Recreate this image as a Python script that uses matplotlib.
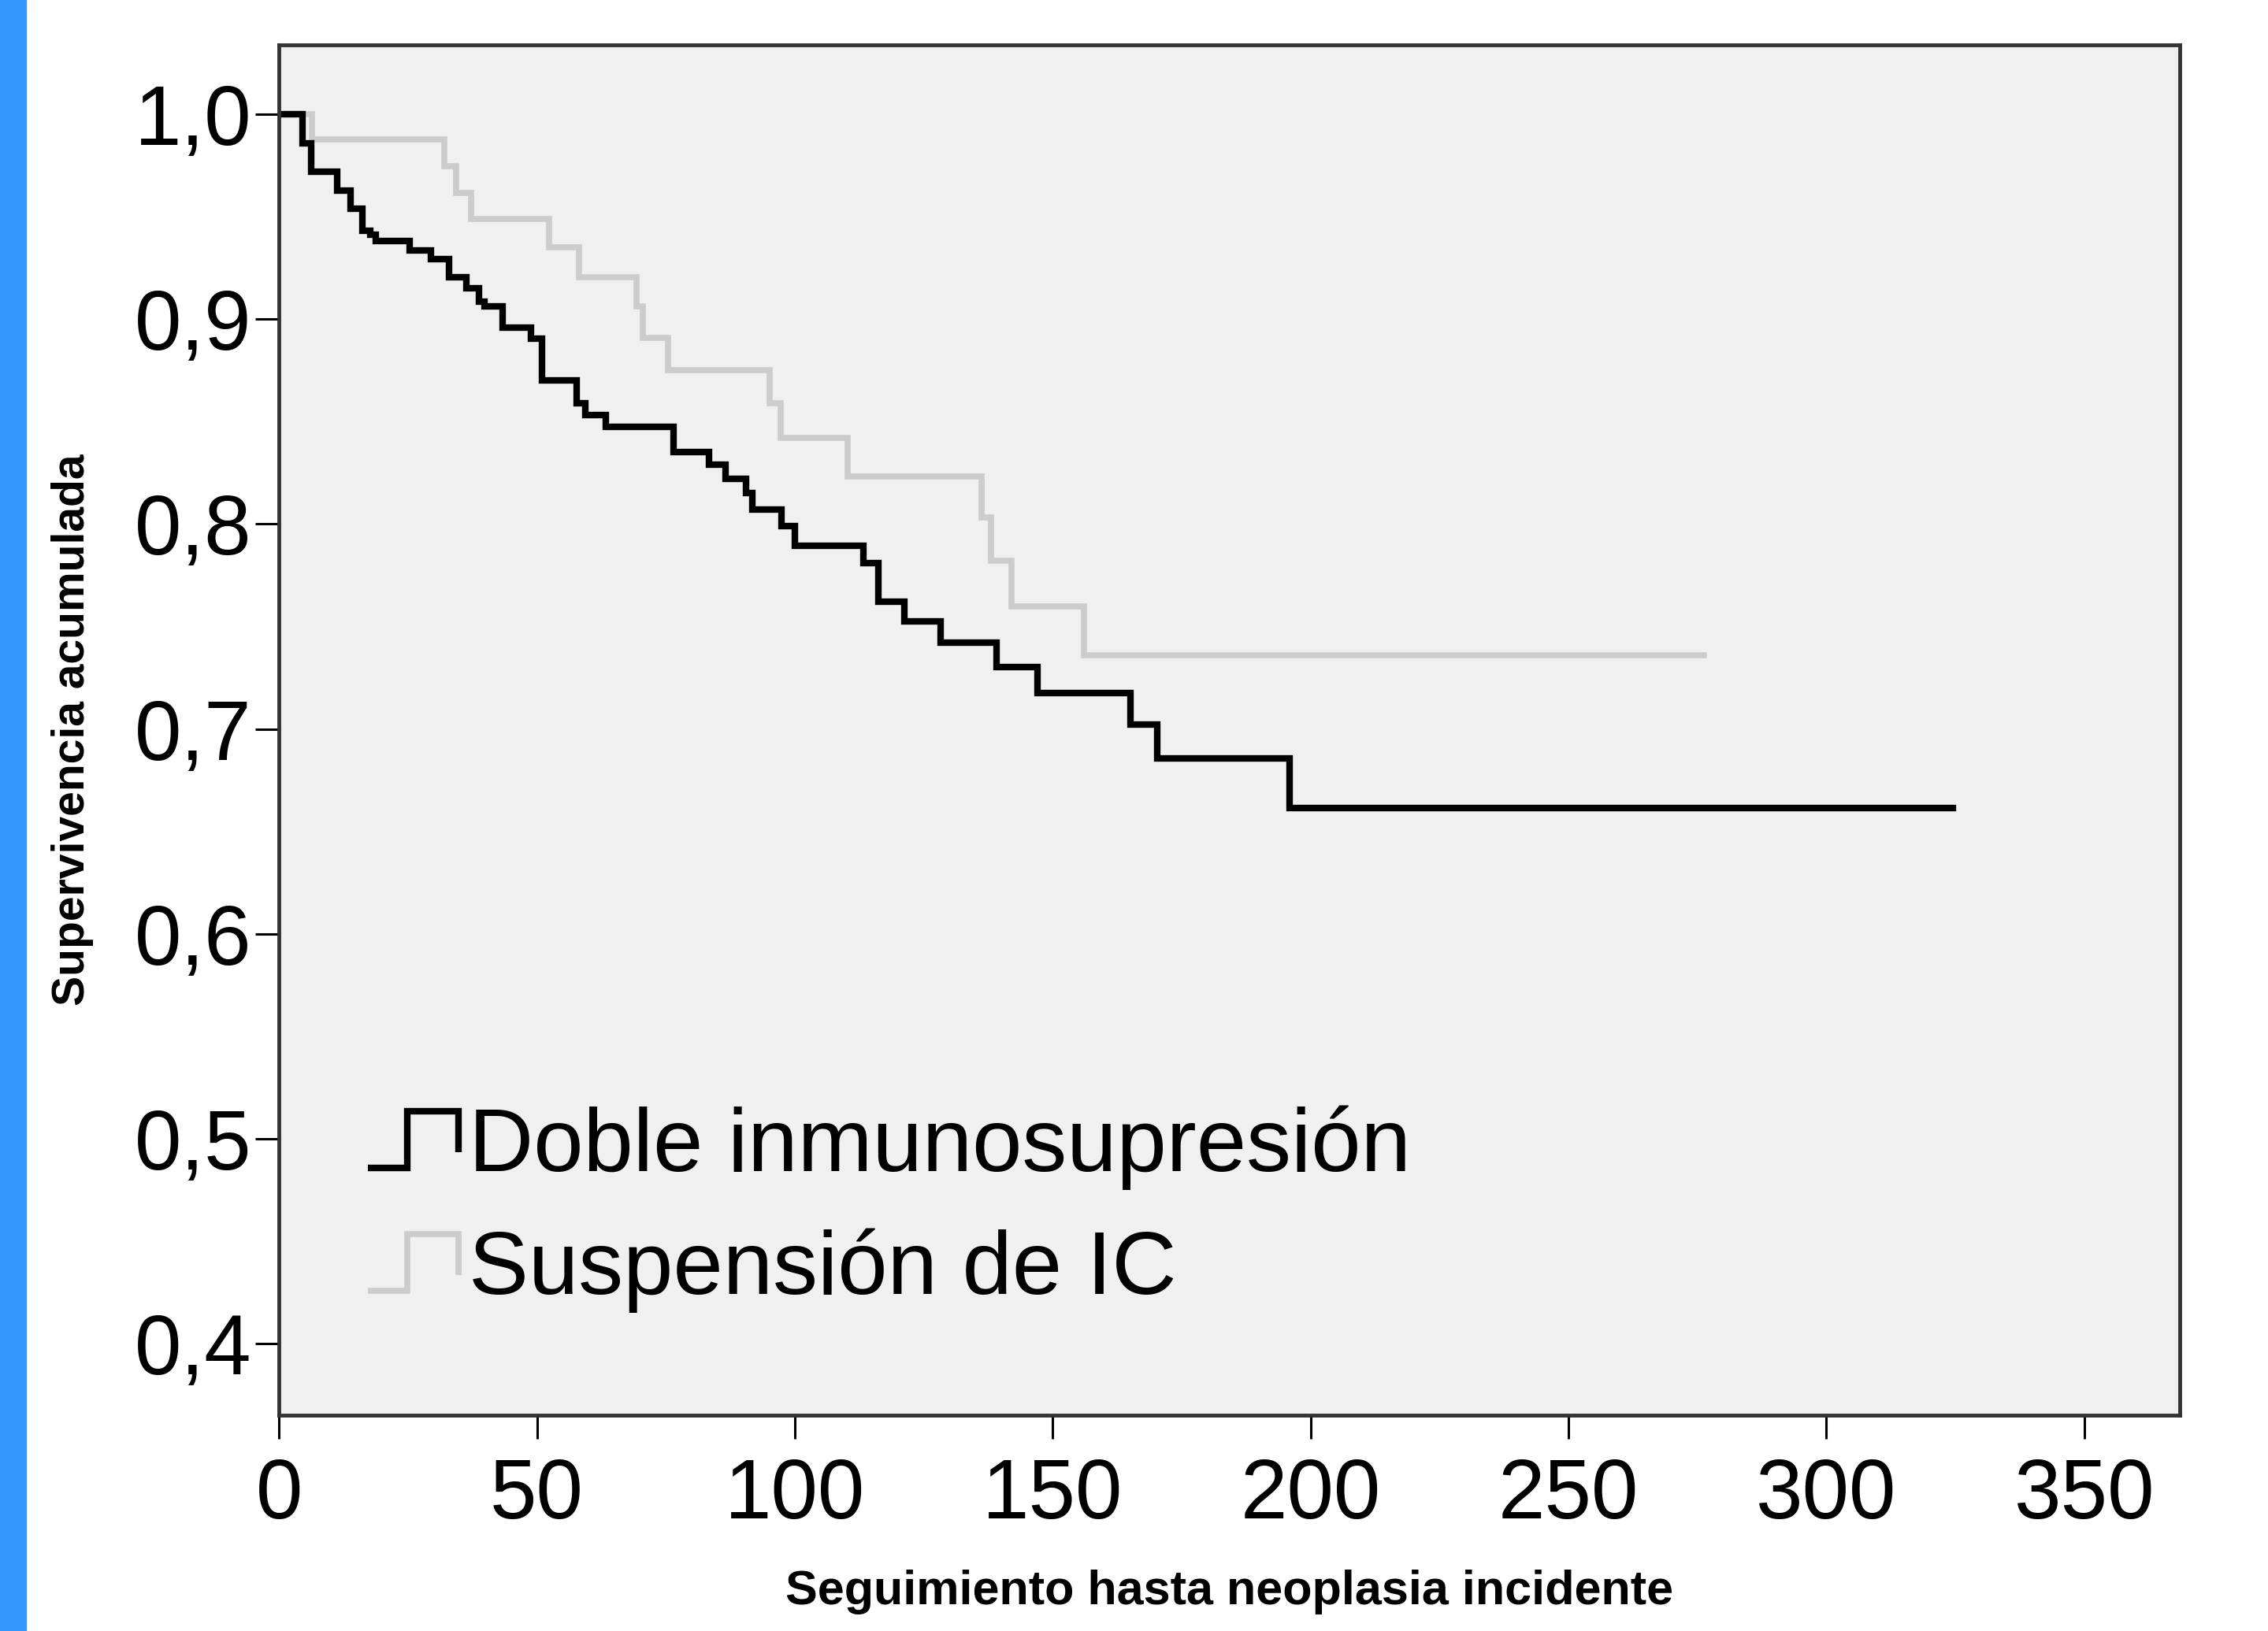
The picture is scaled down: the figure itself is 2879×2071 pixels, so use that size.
import numpy as np
import matplotlib
matplotlib.use("Agg")
import matplotlib.pyplot as plt
from matplotlib.lines import Line2D
from matplotlib.legend_handler import HandlerBase
from matplotlib.patches import Rectangle

# Kaplan-Meier steps
times_doble = [0, 4.5, 6.3, 11.3, 13.9, 16.2, 17.7, 18.7, 25.3, 29.4, 32.9, 36.4,
               38.8, 39.9, 43.4, 48.9, 51.0, 57.7, 59.4, 63.4, 76.5, 83.4, 86.5,
               90.5, 91.7, 97.4, 100.0, 113.3, 116.2, 121.3, 128.2, 139.1, 147.1,
               165.0, 170.2, 196.0, 324.5]
surv_doble = [1.0, 0.9857, 0.9718, 0.9625, 0.9538, 0.9432, 0.941, 0.9381, 0.9333,
              0.9291, 0.9205, 0.915, 0.9085, 0.9063, 0.8957, 0.8903, 0.8701, 0.859,
              0.853, 0.8475, 0.835, 0.829, 0.822, 0.815, 0.807, 0.799, 0.7894,
              0.7809, 0.762, 0.7526, 0.7422, 0.7303, 0.7174, 0.7020, 0.6856,
              0.6616, 0.6616]

times_susp = [0, 6.4, 32.1, 34.3, 37.2, 52.4, 58.2, 69.3, 70.5, 75.4, 95.2, 97.2,
              110.3, 136.2, 138.1, 142.0, 156.1, 276.2]
surv_susp = [1.0, 0.9874, 0.9744, 0.9615, 0.9487, 0.935, 0.9205, 0.906, 0.8906,
             0.8752, 0.859, 0.8418, 0.8232, 0.8032, 0.782, 0.7598, 0.7358, 0.7358]

labels = ["Doble inmunosupresión", "Suspensión de IC"]
xticks = [0, 50, 100, 150, 200, 250, 300, 350]
yticks = [0.4, 0.5, 0.6, 0.7, 0.8, 0.9, 1.0]


class StepHandler(HandlerBase):
    # legend glyph shaped like a survival step
    def create_artists(self, legend, orig_handle, xdescent, ydescent,
                       width, height, fontsize, trans):
        xs = -xdescent + width * np.array([0.0, 0.42, 0.42, 0.97, 0.97])
        ys = -ydescent + height * np.array([0.05, 0.05, 0.95, 0.95, 0.3])
        line = Line2D(xs, ys, color=orig_handle.get_color(),
                      lw=orig_handle.get_linewidth(), solid_joinstyle="miter",
                      solid_capstyle="butt")
        line.set_transform(trans)
        return [line]


plt.rcParams["font.family"] = ["Liberation Sans", "DejaVu Sans"]

fig = plt.figure(figsize=(28.79, 20.71), dpi=100)
fig.patches.append(Rectangle((0, 0), 33 / 2879, 1, transform=fig.transFigure,
                             color="#3399ff", zorder=0))

ax = fig.add_axes([0.1230, 0.1323, 0.8381, 0.8402])
ax.set_facecolor("#f0f0f0")

l2, = ax.step(times_susp, surv_susp, where="post", color="#cccccc", lw=5.5,
              solid_joinstyle="miter")
l1, = ax.step(times_doble, surv_doble, where="post", color="black", lw=6.0,
              solid_joinstyle="miter")

ax.set_xlim(0, 368.5)
ax.set_ylim(0.3652, 1.0337)
ax.set_xticks(xticks)
ax.set_xticklabels([str(v) for v in xticks])
ax.set_yticks(yticks)
ax.set_yticklabels([f"{v:.1f}".replace(".", ",") for v in yticks])

ax.tick_params(axis="both", length=21.5, width=2.2, color="black", labelsize=77)
ax.tick_params(axis="y", pad=3.6)
ax.tick_params(axis="x", pad=17)
for s in ax.spines.values():
    s.set_color("#333333")
    s.set_linewidth(3.5)

ax.set_xlabel("Seguimiento hasta neoplasia incidente", fontsize=44, fontweight="bold")
ax.set_ylabel("Supervivencia acumulada", fontsize=41, fontweight="bold")
ax.xaxis.label.set_va("center")
ax.yaxis.label.set_va("center")
ax.xaxis.set_label_coords(0.5, -0.1293)
ax.yaxis.set_label_coords(-0.1086, 0.5)

ax.legend([l1, l2], labels, handler_map={Line2D: StepHandler()},
          loc="lower left", bbox_to_anchor=(0.0468, 0.075), borderaxespad=0,
          borderpad=0, frameon=False, fontsize=82, handlelength=1.04,
          handletextpad=0.08, labelspacing=0.42)

fig.savefig("out.png", dpi=100, facecolor="white")
